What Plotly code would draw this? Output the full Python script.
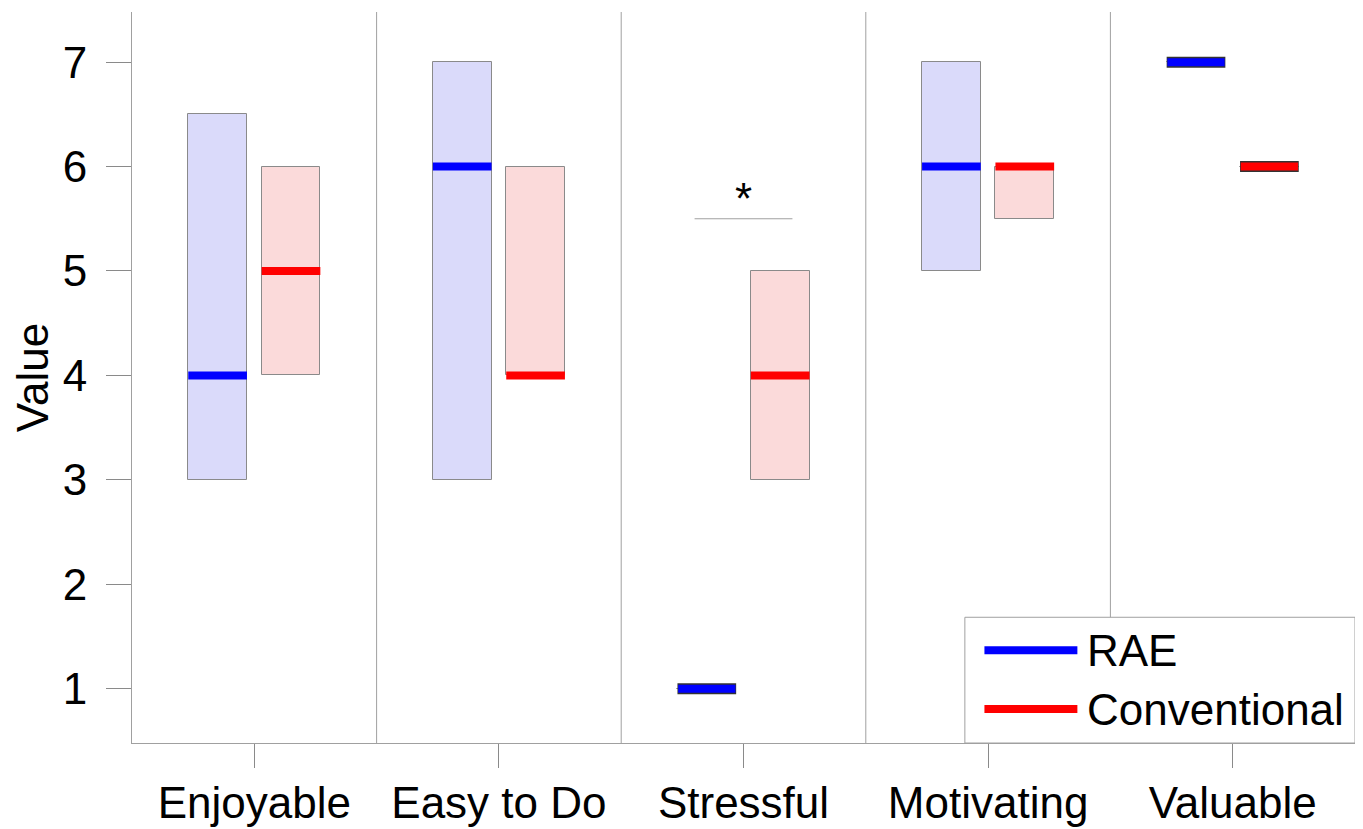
import plotly.graph_objects as go

categories = ["Enjoyable", "Easy to Do", "Stressful", "Motivating", "Valuable"]
series_names = ["RAE", "Conventional"]
rae_q1 = [3, 3, 1, 5, 7]
rae_median = [4, 6, 1, 6, 7]
rae_q3 = [6.5, 7, 1, 7, 7]
conv_q1 = [4, 4, 3, 5.5, 6]
conv_median = [5, 4, 4, 6, 6]
conv_q3 = [6, 6, 5, 6, 6]
y_ticks = [1, 2, 3, 4, 5, 6, 7]
sig_category = 3
sig_level = 5.5
sig_label = "*"

FONT = "Liberation Sans, Arial, sans-serif"
FS = 44
offsets = [-0.15, 0.15]
box_w = 0.24
fills = ["#dadafa", "#fbdada"]
lines = ["#0000ff", "#ff0000"]
series = [(rae_q1, rae_median, rae_q3), (conv_q1, conv_median, conv_q3)]

fig = go.Figure()
xs_base = list(range(1, len(categories) + 1))
for s, (q1, med, q3) in enumerate(series):
    xs = [x + offsets[s] for x in xs_base]
    fig.add_trace(go.Bar(
        x=xs, y=[b - a for a, b in zip(q1, q3)], base=q1, width=box_w,
        marker=dict(color=fills[s], line=dict(color="#8a8a8a", width=1)),
        showlegend=False, hoverinfo="skip"))
    for i, x in enumerate(xs):
        degenerate = q1[i] == q3[i]
        if degenerate:
            fig.add_trace(go.Scatter(
                x=[x - box_w / 2, x + box_w / 2], y=[med[i], med[i]], mode="lines",
                line=dict(color="#333333", width=11), showlegend=False, hoverinfo="skip"))
        fig.add_trace(go.Scatter(
            x=[x - box_w / 2 + (0.003 if degenerate else 0), x + box_w / 2 - (0.003 if degenerate else 0)],
            y=[med[i], med[i]], mode="lines",
            line=dict(color=lines[s], width=8), showlegend=False, hoverinfo="skip"))

# significance marker
fig.add_trace(go.Scatter(
    x=[sig_category - 0.2, sig_category + 0.2], y=[sig_level, sig_level], mode="lines",
    line=dict(color="#a0a0a0", width=1.2), showlegend=False, hoverinfo="skip"))
fig.add_annotation(x=sig_category, y=sig_level, text=sig_label, showarrow=False,
                   yanchor="bottom", yshift=-6, font=dict(size=44, family=FONT, color="black"))

# group separators
for i in range(1, len(categories)):
    fig.add_shape(type="line", xref="x", yref="paper", x0=i + 0.5, x1=i + 0.5, y0=0, y1=1,
                  line=dict(color="#a0a0a0", width=1))

# manual legend
fig.add_shape(type="rect", xref="paper", yref="paper", x0=0.681, x1=1.0, y0=0.0, y1=0.172,
              line=dict(color="#a0a0a0", width=1), fillcolor="white")
for k, (name, yp) in enumerate(zip(series_names, [0.127, 0.0465])):
    fig.add_shape(type="line", xref="paper", yref="paper", x0=0.697, x1=0.773, y0=yp, y1=yp,
                  line=dict(color=lines[k], width=8))
    fig.add_annotation(xref="paper", yref="paper", x=0.779, y=yp, text=name, showarrow=False,
                       xanchor="left", yanchor="middle", font=dict(size=FS, family=FONT, color="black"))

fig.update_layout(
    width=1355, height=821,
    margin=dict(l=124, r=8, t=4, b=86),
    paper_bgcolor="white", plot_bgcolor="white",
    font=dict(family=FONT, size=FS, color="black"),
    barmode="overlay", bargap=0,
    showlegend=False,
)
fig.update_xaxes(range=[0.5, 5.5], tickvals=xs_base, ticktext=categories, automargin=False,
                 ticks="outside", ticklen=24, tickcolor="#8a8a8a", tickwidth=1,
                 showline=True, linecolor="#a0a0a0", linewidth=1, showgrid=False,
                 zeroline=False, tickfont=dict(size=FS, family=FONT),
                 ticklabelstandoff=-3)
fig.update_yaxes(range=[0.48, 7.48], tickvals=y_ticks, automargin=False,
                 ticks="outside", ticklen=25, tickcolor="#8a8a8a", tickwidth=1,
                 showline=True, linecolor="#a0a0a0", linewidth=1, showgrid=False,
                 zeroline=False, tickfont=dict(size=FS, family=FONT),
                 ticklabelstandoff=10,
                 title=dict(text="Value", font=dict(size=FS, family=FONT), standoff=4))

fig.write_html("out.html")
